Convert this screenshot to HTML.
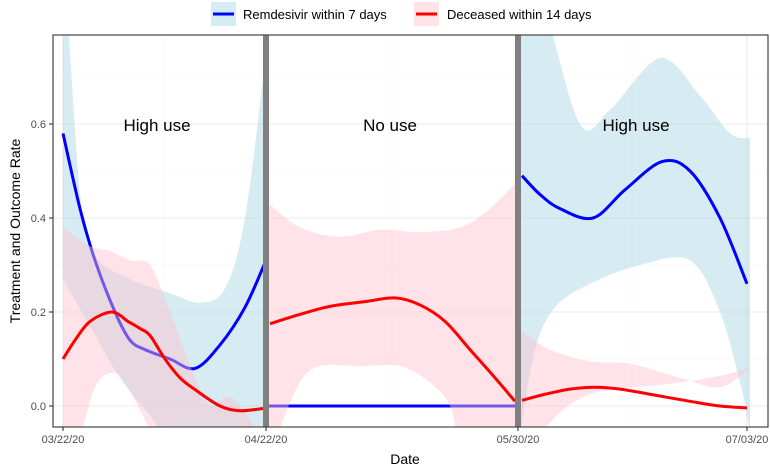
<!DOCTYPE html>
<html><head><meta charset="utf-8">
<style>
html,body{margin:0;padding:0;background:#fff;width:770px;height:475px;overflow:hidden;}
svg{display:block;font-family:"Liberation Sans",Arial,sans-serif;}
</style></head>
<body>
<svg id="s" width="770" height="475" viewBox="0 0 770 475" xmlns="http://www.w3.org/2000/svg">
<defs><clipPath id="c"><rect x="53" y="35" width="715" height="392"/></clipPath></defs>
<rect x="53" y="35" width="715" height="392" fill="#fff"/>
<g stroke="#f4f4f4" stroke-width="0.6">
<line x1="53" x2="768" y1="359" y2="359"/><line x1="53" x2="768" y1="265" y2="265"/>
<line x1="53" x2="768" y1="171" y2="171"/><line x1="53" x2="768" y1="77" y2="77"/>
<line x1="164" x2="164" y1="35" y2="427"/><line x1="392" x2="392" y1="35" y2="427"/><line x1="632" x2="632" y1="35" y2="427"/>
</g>
<g stroke="#ebebeb" stroke-width="1.1">
<line x1="53" x2="768" y1="406" y2="406"/><line x1="53" x2="768" y1="312" y2="312"/>
<line x1="53" x2="768" y1="218" y2="218"/><line x1="53" x2="768" y1="124" y2="124"/>
<line x1="63" x2="63" y1="35" y2="427"/><line x1="266" x2="266" y1="35" y2="427"/>
<line x1="518" x2="518" y1="35" y2="427"/><line x1="747" x2="747" y1="35" y2="427"/>
</g>
<g id="plot" clip-path="url(#c)"></g>
<rect x="263" y="35" width="6" height="392" fill="#808080"/>
<rect x="515" y="35" width="6" height="392" fill="#808080"/>
<rect x="53" y="35" width="715" height="392" fill="none" stroke="#333" stroke-width="1.1"/>
<g font-size="17" fill="#000" text-anchor="middle">
<text x="157" y="131">High use</text><text x="390" y="131">No use</text><text x="636" y="131">High use</text>
</g>
<g font-size="11" fill="#4d4d4d" text-anchor="end">
<text x="46" y="410">0.0</text><text x="46" y="316">0.2</text><text x="46" y="222">0.4</text><text x="46" y="128">0.6</text>
</g>
<g stroke="#333" stroke-width="1.1">
<line x1="49" x2="53" y1="406" y2="406"/><line x1="49" x2="53" y1="312" y2="312"/><line x1="49" x2="53" y1="218" y2="218"/><line x1="49" x2="53" y1="124" y2="124"/>
<line x1="63" x2="63" y1="427" y2="431"/><line x1="266" x2="266" y1="427" y2="431"/><line x1="518" x2="518" y1="427" y2="431"/><line x1="747" x2="747" y1="427" y2="431"/>
</g>
<g font-size="11" fill="#4d4d4d" text-anchor="middle">
<text x="63" y="443">03/22/20</text><text x="266" y="443">04/22/20</text><text x="518" y="443">05/30/20</text><text x="747" y="443">07/03/20</text>
</g>
<text x="405" y="464" font-size="14" text-anchor="middle">Date</text>
<text transform="translate(20,231) rotate(-90)" font-size="14" text-anchor="middle">Treatment and Outcome Rate</text>
<rect x="211" y="2" width="25" height="24" fill="#d6ecf3"/>
<line x1="213" x2="234" y1="14" y2="14" stroke="#0000ff" stroke-width="3"/>
<text x="243" y="19" font-size="13">Remdesivir within 7 days</text>
<rect x="414" y="2" width="25" height="24" fill="#ffe3e6"/>
<line x1="416" x2="437" y1="14" y2="14" stroke="#ff0000" stroke-width="3"/>
<text x="447" y="19" font-size="13">Deceased within 14 days</text>
</svg>
<script>
function Y(v){return 406-470*v;}
function pts(a){return a.map(p=>[p[0],Y(p[1])]);}
function cr(p){let d="M"+p[0][0]+","+p[0][1];for(let i=0;i<p.length-1;i++){const p0=p[i-1]||p[i],p1=p[i],p2=p[i+1],p3=p[i+2]||p[i+1];
d+=" C"+(p1[0]+(p2[0]-p0[0])/6)+","+(p1[1]+(p2[1]-p0[1])/6)+" "+(p2[0]-(p3[0]-p1[0])/6)+","+(p2[1]-(p3[1]-p1[1])/6)+" "+p2[0]+","+p2[1];}return d;}
function band(u,l,fill,op){const pu=pts(u),pl=pts(l).reverse();let d=cr(pu)+" L"+pl[0][0]+","+pl[0][1]+cr(pl).slice(cr(pl).indexOf(" C"))+" Z";
return '<path d="'+d+'" fill="'+fill+'" fill-opacity="'+op+'"/>';}
function line(a,c){return '<path d="'+cr(pts(a))+'" fill="none" stroke="'+c+'" stroke-width="3" stroke-linejoin="round"/>';}
let h="";
h+=band([[63,1.0],[80,0.45],[95,0.32],[130,0.27],[170,0.24],[200,0.22],[225,0.25],[245,0.4],[266,0.75]],
        [[63,0.27],[90,0.17],[120,0.06],[150,-0.02],[175,-0.08],[266,-0.2]],"#add8e6",0.5);
h+=band([[521,1.0],[545,0.85],[580,0.6],[610,0.63],[660,0.74],[700,0.66],[730,0.58],[750,0.57]],
        [[521,-0.05],[535,0.12],[555,0.21],[590,0.26],[640,0.3],[690,0.31],[720,0.2],[740,0.05],[750,-0.05]],"#add8e6",0.5);
h+=line([[63,0.58],[80,0.42],[95,0.31],[115,0.2],[130,0.14],[145,0.12],[170,0.1],[195,0.08],[220,0.13],[245,0.21],[266,0.31]],"#0000ff");
h+=line([[269,0],[516,0]],"#0000ff");
h+=line([[522,0.49],[540,0.45],[560,0.42],[593,0.4],[625,0.46],[662,0.52],[690,0.5],[720,0.4],[747,0.26]],"#0000ff");
h+=band([[63,0.38],[90,0.34],[110,0.33],[130,0.31],[150,0.3],[170,0.2],[195,0.06],[210,0.0],[230,0.02],[250,-0.03],[266,-0.1]],
        [[63,-0.1],[80,-0.06],[95,0.04],[110,0.07],[125,0.05],[150,-0.05],[170,-0.12],[266,-0.2]],"#ffc0cb",0.45);
h+=band([[269,0.43],[300,0.38],[340,0.36],[380,0.375],[420,0.37],[460,0.38],[490,0.42],[518,0.48]],
        [[269,-0.15],[280,-0.05],[300,0.05],[320,0.085],[360,0.085],[400,0.085],[430,0.05],[450,0.0],[465,-0.1],[518,-0.2]],"#ffc0cb",0.45);
h+=band([[521,0.16],[550,0.12],[590,0.095],[630,0.09],[680,0.06],[720,0.04],[750,0.08]],
        [[521,-0.15],[545,-0.05],[575,0.01],[610,0.035],[660,0.045],[710,0.06],[750,0.08]],"#ffc0cb",0.45);
h+=line([[63,0.1],[75,0.14],[90,0.18],[112,0.2],[128,0.18],[140,0.165],[150,0.15],[165,0.1],[180,0.06],[195,0.035],[220,0.0],[240,-0.01],[264,-0.005]],"#ff0000");
h+=line([[270,0.175],[300,0.195],[330,0.212],[365,0.222],[395,0.23],[420,0.215],[445,0.18],[470,0.12],[495,0.06],[515,0.01]],"#ff0000");
h+=line([[522,0.012],[545,0.025],[570,0.036],[595,0.04],[620,0.036],[650,0.025],[690,0.01],[720,0.0],[747,-0.004]],"#ff0000");
document.getElementById("plot").innerHTML=h;
</script>
</body></html>
